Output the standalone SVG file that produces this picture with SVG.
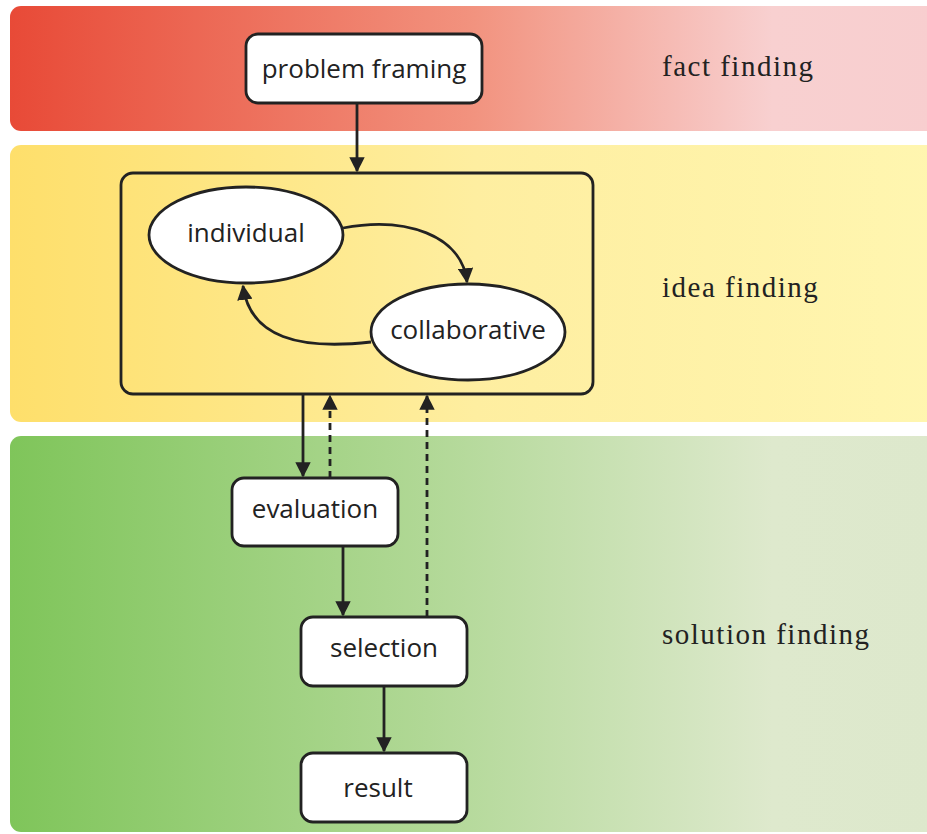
<svg xmlns="http://www.w3.org/2000/svg" width="927" height="834" viewBox="0 0 927 834">
<defs>
<linearGradient id="gRed" x1="0" y1="0" x2="1" y2="0">
<stop offset="0" stop-color="#e84a37"/>
<stop offset="0.5" stop-color="#f2937f"/>
<stop offset="0.82" stop-color="#f8d0d0"/>
<stop offset="1" stop-color="#f8cecf"/>
</linearGradient>
<linearGradient id="gYel" x1="0" y1="0" x2="1" y2="0">
<stop offset="0" stop-color="#fedf6b"/>
<stop offset="0.5" stop-color="#feeea0"/>
<stop offset="1" stop-color="#fff6b0"/>
</linearGradient>
<linearGradient id="gGrn" x1="0" y1="0" x2="1" y2="0">
<stop offset="0" stop-color="#7fc55a"/>
<stop offset="0.45" stop-color="#b1d896"/>
<stop offset="0.82" stop-color="#dee9cd"/>
<stop offset="1" stop-color="#dde8cc"/>
</linearGradient>
<marker id="ah" viewBox="0 0 10 10" refX="9" refY="5" markerWidth="5.5" markerHeight="5.5" markerUnits="strokeWidth" orient="auto">
<path d="M0,0 L10,5 L0,10 z" fill="#222"/>
</marker>
<style>
.box{fill:#fff;stroke:#222;stroke-width:2.8}
.nt{font-family:"Open Sans","Lato",sans-serif;font-size:26px;fill:#222;text-anchor:middle}
.lbl{font-family:"Liberation Serif","DejaVu Serif",serif;font-size:29px;letter-spacing:1.5px;fill:#222}
.c{fill:none;stroke:#222;stroke-width:2.8;marker-end:url(#ah)}
.d{stroke-dasharray:7,5}
</style>
</defs>
<g id="bands">
<rect x="10" y="6" width="930" height="125" rx="11" fill="url(#gRed)"/>
<rect x="10" y="145" width="930" height="277" rx="11" fill="url(#gYel)"/>
<rect x="10" y="436" width="930" height="396" rx="11" fill="url(#gGrn)"/>
<text class="lbl" x="662" y="76">fact finding</text>
<text class="lbl" x="662" y="297">idea finding</text>
<text class="lbl" x="662" y="644">solution finding</text>
</g>
<g id="container"><rect x="121" y="173" width="472" height="221" rx="12" fill="none" stroke="#222" stroke-width="2.8"/></g>
<g id="problem"><rect class="box" x="246" y="34" width="236" height="69" rx="12"/><text class="nt" x="364" y="78">problem framing</text></g>
<g id="individual"><ellipse class="box" cx="246" cy="235" rx="97" ry="48"/><text class="nt" x="246" y="242">individual</text></g>
<g id="collaborative"><ellipse class="box" cx="468" cy="332" rx="97" ry="48"/><text class="nt" x="468" y="339">collaborative</text></g>
<g id="evaluation"><rect class="box" x="232" y="478" width="166" height="68" rx="12"/><text class="nt" x="315" y="518">evaluation</text></g>
<g id="selection"><rect class="box" x="301" y="617" width="166" height="69" rx="12"/><text class="nt" x="384" y="657">selection</text></g>
<g id="result"><rect class="box" x="301" y="753" width="166" height="69" rx="12"/><text class="nt" x="378" y="797">result</text></g>
<g id="connectors">
<path class="c" d="M357,103 L357,171"/>
<path class="c" d="M343,228 C405,216 462,235 467,282"/>
<path class="c" d="M371,342 C300,350 250,338 243,286"/>
<path class="c" d="M303,394 L303,476"/>
<path class="c d" d="M330,478 L330,396"/>
<path class="c d" d="M427,617 L427,396"/>
<path class="c" d="M343,546 L343,615"/>
<path class="c" d="M384,686 L384,751"/>
</g>
</svg>
